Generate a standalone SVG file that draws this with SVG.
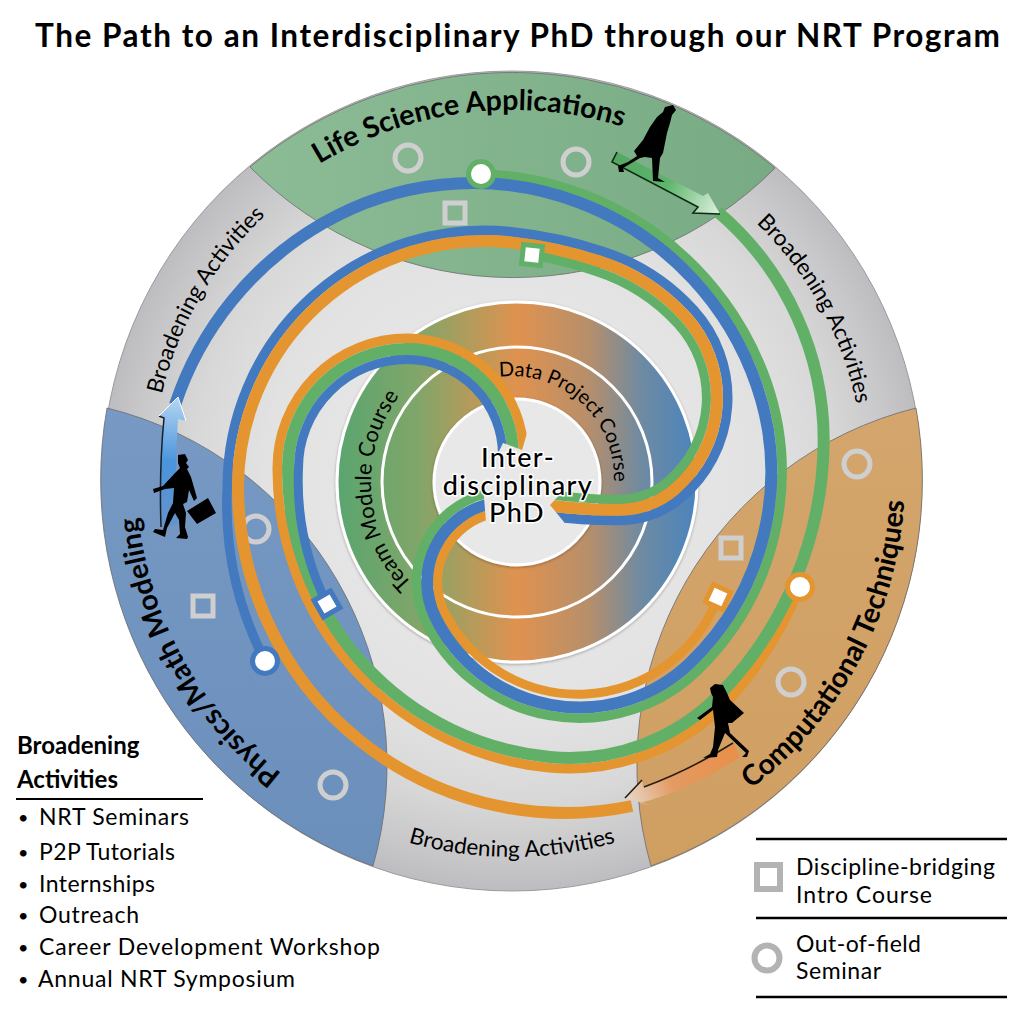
<svg xmlns="http://www.w3.org/2000/svg" width="1024" height="1024" viewBox="0 0 1024 1024">
<style>
text{font-family:"Lato","Open Sans","Liberation Sans",sans-serif;fill:#000}
.b{fill:none;stroke-linecap:butt}
.o{stroke:#e5952f}.g{stroke:#62b068}.u{stroke:#4379bf}
.w1{stroke-width:9.5}.w2{stroke-width:12}.w3{stroke-width:9}
.sec{stroke:#6b6b6b;stroke-width:.8}
.mk{fill:none;stroke:#cfcfcf;stroke-width:5}
.lg{fill:none;stroke:#b3b3b3;stroke-width:6}
.end{fill:#fff;stroke-width:5}
.arc{font-size:22.5px}
.big{font-size:28.5px;font-weight:700}
.li{font-size:23px}
.bu{font-size:18px}
.rule{stroke:#000;stroke-width:2.5}
.cut{fill:#e8e8e8}
.ctr{font-size:27px;font-weight:500;text-anchor:middle;paint-order:stroke;stroke:#fff;stroke-width:3px;letter-spacing:1.4px}
</style>
<defs>
<radialGradient id="disc" gradientUnits="userSpaceOnUse" cx="512" cy="481" r="410">
<stop offset="0" stop-color="#ececec"/><stop offset=".6" stop-color="#e2e2e2"/><stop offset=".78" stop-color="#d8d8d8"/><stop offset=".92" stop-color="#c8c8ca"/><stop offset="1" stop-color="#bdbdc1"/>
</radialGradient>
<linearGradient id="ring" gradientUnits="userSpaceOnUse" x1="337" y1="0" x2="697" y2="0">
<stop offset="0" stop-color="#5aa56f"/><stop offset=".22" stop-color="#7fa66a"/><stop offset=".5" stop-color="#e0924f"/><stop offset=".7" stop-color="#b68f6b"/><stop offset=".85" stop-color="#6d8aa3"/><stop offset="1" stop-color="#4b84bd"/>
</linearGradient>
<linearGradient id="sg" x1="0" y1="0" x2="1" y2="0"><stop offset="0" stop-color="#8bbc96"/><stop offset="1" stop-color="#78aa84"/></linearGradient>
<linearGradient id="so" x1="0" y1="0" x2="0" y2="1"><stop offset="0" stop-color="#d4a56c"/><stop offset="1" stop-color="#cf9f62"/></linearGradient>
<linearGradient id="su" x1="0" y1="0" x2="0" y2="1"><stop offset="0" stop-color="#7799c4"/><stop offset="1" stop-color="#6b8fbb"/></linearGradient>
<linearGradient id="au" gradientUnits="userSpaceOnUse" x1="170" y1="527" x2="176" y2="397"><stop offset="0" stop-color="#4a90d9" stop-opacity=".35"/><stop offset=".5" stop-color="#4a94dc"/><stop offset="1" stop-color="#b5d6f2"/></linearGradient>
<linearGradient id="ag" gradientUnits="userSpaceOnUse" x1="614" y1="157" x2="720" y2="214"><stop offset="0" stop-color="#52a860"/><stop offset=".5" stop-color="#5fb56d"/><stop offset="1" stop-color="#dff2e0"/></linearGradient>
<linearGradient id="ao" gradientUnits="userSpaceOnUse" x1="740" y1="752" x2="625" y2="798"><stop offset="0" stop-color="#e88f4a"/><stop offset=".6" stop-color="#e49a62"/><stop offset="1" stop-color="#e6d8cc"/></linearGradient>
<filter id="sh" x="-10%" y="-10%" width="120%" height="120%"><feDropShadow dx="0" dy="1" stdDeviation="1.5" flood-color="#000" flood-opacity=".3"/></filter>
<path id="tLife" d="M241.4,227.7 A370 370 0 0 1 713.5,169.7"/>
<path id="tComp" d="M659.2,841.4 A393 393 0 0 0 896.4,395.3"/>
<path id="tPhys" d="M378.7,828 A376 376 0 0 1 143,406"/>
<path id="tB1" d="M157.5,539.5 A360 360 0 0 1 389,139"/>
<path id="tB2" d="M638,148 A352 352 0 0 1 857.5,544"/>
<path id="tB3" d="M322,806 A380 380 0 0 0 702,806"/>
<path id="tTeam" d="M453,613.2 A146 146 0 0 1 435.4,361"/>
<path id="tData" d="M477.1,382.2 A102 102 0 0 1 610.5,504.4"/>
</defs>

<text id="title" x="35" y="47" font-size="31.5" font-weight="700" textLength="965">The Path to an Interdisciplinary PhD through our NRT Program</text>

<g id="wheel">
<circle cx="512" cy="481" r="410" fill="url(#disc)" stroke="#9a9a9a"/>
<path id="sector-life" class="sec" fill="url(#sg)" d="M250,167 A410 410 0 0 1 775,168 A368 368 0 0 1 250,167 Z"/>
<path id="sector-comp" class="sec" fill="url(#so)" d="M916,408 A410 410 0 0 1 651,866 A368 368 0 0 1 916,408 Z"/>
<path id="sector-phys" class="sec" fill="url(#su)" d="M373,866 A410 410 0 0 1 107,408 A368 368 0 0 1 373,866 Z"/>
</g>

<g id="rings">
<circle cx="517" cy="482" r="180" fill="url(#ring)" stroke="#fff" stroke-width="3" filter="url(#sh)"/>
<circle cx="517" cy="482" r="135" fill="none" stroke="#fff" stroke-width="3"/>
<circle cx="517" cy="482" r="83" fill="#e8e8e8" stroke="#fff" stroke-width="3" filter="url(#sh)"/>
</g>

<g id="seminars">
<circle class="mk" cx="408" cy="158" r="13"/><circle class="mk" cx="576" cy="162" r="13"/>
<circle class="mk" cx="857" cy="464" r="13"/><circle class="mk" cx="791" cy="682" r="13"/>
<circle class="mk" cx="256" cy="529" r="13"/><circle class="mk" cx="333" cy="785" r="13"/>
</g>
<g id="intro-courses">
<rect class="mk" x="445" y="203" width="20" height="20"/>
<rect class="mk" x="721" y="538" width="20" height="20"/>
<rect class="mk" x="193" y="596" width="20" height="20"/>
</g>

<g id="connectors">
<path class="b g w1" d="M485,494 A90.75 90.75 0 0 0 425.3,621.1 A170.75 170.75 0 0 0 697.5,670.7 A275.75 275.75 0 0 0 766.9,382.1 A310.75 310.75 0 0 0 481,174"/>
<path class="b u w2" d="M490,504 A80 80 0 0 0 435,616.5 A160 160 0 0 0 690,663 A265 265 0 0 0 756.7,385.6 A300 300 0 0 0 322.9,223.3 A328 328 0 0 0 175,405"/>
<path class="b o w3" d="M492,514 A69.5 69.5 0 0 0 444.5,612 A149.5 149.5 0 0 0 718,597"/>

<path class="b u w1" d="M548,516 A510.75 510.75 0 0 0 619.1,520.45 A96.75 96.75 0 0 0 681.8,497.3 A130.75 130.75 0 0 0 693.8,309.9 A210.75 210.75 0 0 0 603.3,251.4 A449.75 449.75 0 0 0 511.1,231.7 A256.75 256.75 0 0 0 227.25,487 A345 345 0 0 0 265,661"/>
<path class="b o w2" d="M545,505 A500 500 0 0 0 619.1,509.7 A86 86 0 0 0 674.8,489.1 A120 120 0 0 0 685.8,317.1 A200 200 0 0 0 600,261.6 A439 439 0 0 0 510,242.4 A246 246 0 0 0 238,487 A327 327 0 0 0 632,806"/>
<path class="b g w3" d="M548,494.5 A489.5 489.5 0 0 0 619.1,499.2 A75.5 75.5 0 0 0 668,481.1 A109.5 109.5 0 0 0 678,324.2 A189.5 189.5 0 0 0 596.7,271.6 A428.5 428.5 0 0 0 532,255"/>

<path class="b o w1" d="M523.7,455 A116.75 116.75 0 0 0 407,338.25 A129.75 129.75 0 0 0 277.25,468 A299.75 299.75 0 0 0 549,767.7 A220.75 220.75 0 0 0 728.7,700.4 A377.75 377.75 0 0 0 800,587"/>
<path class="b g w2" d="M513,455 A106 106 0 0 0 407,349 A119 119 0 0 0 288,468 A289 289 0 0 0 550,757 A210 210 0 0 0 721,693 A367 367 0 0 0 823.6,447 A300 300 0 0 0 718,212"/>
<path class="b u w3" d="M502.5,455 A95.5 95.5 0 0 0 407,359.5 A108.5 108.5 0 0 0 298.5,468 A278.5 278.5 0 0 0 327,604"/>
</g>

<g id="band-ends">
<polygon class="cut" points="528,430 522,450 503,443 490,470 545,470 545,430"/>
<polygon class="cut" points="483,485 486,522 505,522 505,485"/>
<polygon class="cut" points="566,488 550,505 564,522 564,526 535,526 535,488"/>
</g>

<g id="stops">
<g id="stop-life-seminar"><circle class="end g" cx="481" cy="174" r="12.5"/></g>
<g id="stop-comp-seminar"><circle class="end o" cx="800" cy="587" r="12.5"/></g>
<g id="stop-phys-seminar"><circle class="end u" cx="265" cy="661" r="12.5"/></g>
<g id="stop-life-intro"><rect class="end g" x="522.5" y="245.5" width="19" height="19" transform="rotate(6 532 255)"/></g>
<g id="stop-comp-intro"><rect class="end o" x="708.5" y="587.5" width="19" height="19" transform="rotate(25 718 597)"/></g>
<g id="stop-phys-intro"><rect class="end u" x="317.5" y="594.5" width="19" height="19" transform="rotate(-30 327 604)"/></g>
</g>

<g id="arrow-blue">
<path fill="url(#au)" d="M161,527 Q159,470 164,418 L159,416 L178,397 L186,421 L178,419 Q174,470 178,525 Z"/>
<path fill="none" stroke="#16212b" stroke-width="1.5" d="M161,527 Q159,470 164,418 L159,416"/>
<path fill="none" stroke="#fff" stroke-width="1" d="M159,416 L178,397 L186,421"/>
</g>
<g id="arrow-green">
<path fill="url(#ag)" d="M617,152 L703,196 L708,193 L720,214 L693,213 L698,207 L612,162 Z"/>
<path fill="none" stroke="#0f2a14" stroke-width="1.6" d="M617,152 L612,162 L698,207 L693,213 L720,214"/>
</g>
<g id="arrow-orange">
<path fill="url(#ao)" d="M733,743 Q690,770 643,787 L642,780 L625,798 L650,805 L640,803 Q690,790 740,757 Z"/>
<path fill="none" stroke="#2a1c10" stroke-width="1.6" d="M733,743 Q690,770 644,787 M642,780 L625,798"/>
</g>

<g id="walkers" fill="#000">
<polygon id="walker-life" points="673,105 676,110 672,115 670,123 667,133 663,153 660,158 658,178 665,182 653,181 652,158 645,157 640,158 623,168 624,172 619,172 618,166 628,162 637,156 634,151 643,140 650,127 657,117 663,112 665,107"/>
<g id="walker-phys">
<polygon points="178,455 185,454 188,460 186,463 189,467 187,469 191,477 197,498 194,501 189,490 187,502 183,504 186,513 185,527 188,537 187,539 176,538 180,534 179,520 175,513 167,528 165,537 153,532 155,529 163,530 168,513 173,503 174,488 165,489 154,493 153,489 163,486 175,473 180,468 178,463"/>
<polygon points="187,511 208,498 216,513 197,524"/>
</g>
<polygon id="walker-comp" points="710,688 715,684 723,685 727,693 730,700 744,713 732,723 728,723 730,733 749,751 747,757 742,757 746,753 725,733 718,750 717,757 703,758 710,754 713,747 715,727 713,710 700,720 697,718 712,707 713,697 711,693"/>
</g>

<g id="labels">
<text class="big"><textPath href="#tLife" startOffset="50%" text-anchor="middle">Life Science Applications</textPath></text>
<text class="big"><textPath href="#tComp" startOffset="50%" text-anchor="middle">Computational Techniques</textPath></text>
<text class="big"><textPath href="#tPhys" startOffset="50%" text-anchor="middle">Physics/Math Modeling</textPath></text>
<text class="arc"><textPath href="#tB1" startOffset="50%" text-anchor="middle">Broadening Activities</textPath></text>
<text class="arc"><textPath href="#tB2" startOffset="50%" text-anchor="middle">Broadening Activities</textPath></text>
<text class="arc"><textPath href="#tB3" startOffset="50%" text-anchor="middle">Broadening Activities</textPath></text>
<text font-size="22"><textPath href="#tTeam" startOffset="50%" text-anchor="middle">Team Module Course</textPath></text>
<text font-size="20"><textPath href="#tData" startOffset="50%" text-anchor="middle">Data Project Course</textPath></text>
</g>

<g id="center">
<text class="ctr" x="518" y="467">Inter-</text>
<text class="ctr" x="518" y="495">disciplinary</text>
<text class="ctr" x="517" y="522">PhD</text>
</g>

<g id="legend-activities">
<text x="17" y="754" font-size="24" font-weight="700">Broadening</text>
<text x="17" y="788" font-size="24" font-weight="700">Activities</text>
<line x1="16" y1="799" x2="203" y2="799" stroke="#000" stroke-width="2"/>
<text class="bu" x="18" y="824">•</text><text class="li" x="39" y="825" textLength="150">NRT Seminars</text>
<text class="bu" x="18" y="859">•</text><text class="li" x="39" y="860" textLength="136">P2P Tutorials</text>
<text class="bu" x="18" y="891">•</text><text class="li" x="39" y="892" textLength="116">Internships</text>
<text class="bu" x="18" y="922">•</text><text class="li" x="39" y="923" textLength="100">Outreach</text>
<text class="bu" x="18" y="954">•</text><text class="li" x="39" y="955" textLength="341">Career Development Workshop</text>
<text class="bu" x="18" y="986">•</text><text class="li" x="38" y="987" textLength="257">Annual NRT Symposium</text>
</g>

<g id="legend-key">
<line class="rule" x1="756" y1="839" x2="1007" y2="839"/>
<line class="rule" x1="756" y1="918" x2="1007" y2="918"/>
<line class="rule" x1="756" y1="997" x2="1007" y2="997"/>
<rect class="lg" x="757" y="865" width="23" height="24"/>
<circle class="lg" cx="767" cy="958" r="12.5"/>
<text class="li" x="796" y="875" textLength="199">Discipline-bridging</text>
<text class="li" x="796" y="903" textLength="136">Intro Course</text>
<text class="li" x="796" y="952" textLength="125">Out-of-field</text>
<text class="li" x="796" y="979" textLength="85">Seminar</text>
</g>
</svg>
